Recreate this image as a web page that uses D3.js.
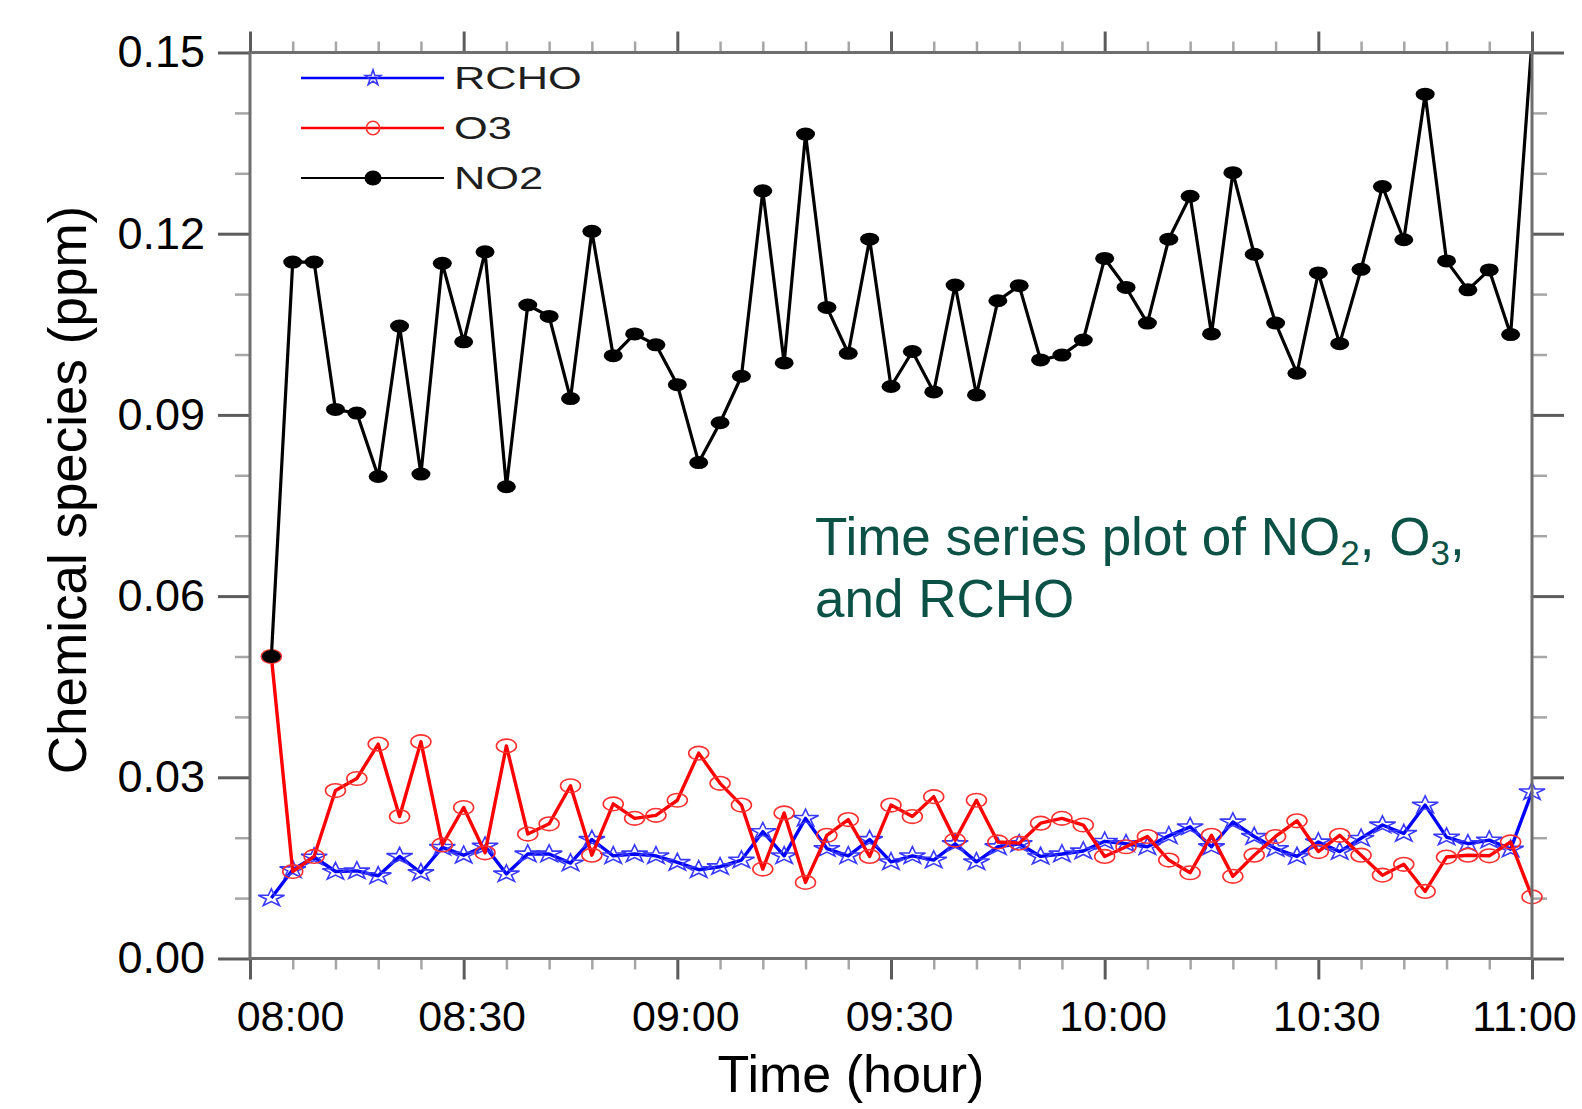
<!DOCTYPE html>
<html>
<head>
<meta charset="utf-8">
<script src="https://cdn.jsdelivr.net/npm/d3@7"></script>
<style>
    body { margin: 0; background: #fff; }
    text { font-family: "Liberation Sans", Arial, Helvetica, sans-serif; }
</style>
</head>
<body>
<script>

    // sample times (every 3 minutes)
    var times = ["08:03","08:06","08:09","08:12","08:15","08:18","08:21","08:24","08:27","08:30",
                 "08:33","08:36","08:39","08:42","08:45","08:48","08:51","08:54","08:57","09:00",
                 "09:03","09:06","09:09","09:12","09:15","09:18","09:21","09:24","09:27","09:30",
                 "09:33","09:36","09:39","09:42","09:45","09:48","09:51","09:54","09:57","10:00",
                 "10:03","10:06","10:09","10:12","10:15","10:18","10:21","10:24","10:27","10:30",
                 "10:33","10:36","10:39","10:42","10:45","10:48","10:51","10:54","10:57","11:00"];

    var no2 = [0.0500, 0.1153, 0.1153, 0.0909, 0.0903, 0.0798, 0.1047, 0.0802, 0.1151, 0.1021,
               0.1170, 0.0781, 0.1082, 0.1063, 0.0927, 0.1204, 0.0998, 0.1034, 0.1016, 0.0950,
               0.0821, 0.0887, 0.0964, 0.1271, 0.0986, 0.1365, 0.1078, 0.1002, 0.1191, 0.0947,
               0.1005, 0.0938, 0.1115, 0.0933, 0.1089, 0.1114, 0.0991, 0.0999, 0.1024, 0.1159,
               0.1111, 0.1052, 0.1191, 0.1262, 0.1034, 0.1301, 0.1166, 0.1052, 0.0969, 0.1135,
               0.1018, 0.1141, 0.1278, 0.1190, 0.1431, 0.1155, 0.1107, 0.1140, 0.1033, 0.1520];

    var o3 = [0.0500, 0.0144, 0.0169, 0.0278, 0.0298, 0.0355, 0.0235, 0.0359, 0.0188, 0.0250,
              0.0175, 0.0352, 0.0206, 0.0223, 0.0286, 0.0171, 0.0256, 0.0232, 0.0237, 0.0262,
              0.0340, 0.0290, 0.0254, 0.0148, 0.0241, 0.0126, 0.0204, 0.0230, 0.0169, 0.0254,
              0.0235, 0.0268, 0.0196, 0.0262, 0.0193, 0.0191, 0.0224, 0.0232, 0.0221, 0.0169,
              0.0185, 0.0202, 0.0163, 0.0142, 0.0204, 0.0136, 0.0171, 0.0202, 0.0228, 0.0177,
              0.0204, 0.0171, 0.0138, 0.0156, 0.0111, 0.0168, 0.0171, 0.0170, 0.0193, 0.0102];

    var rcho = [0.0100, 0.0147, 0.0168, 0.0144, 0.0145, 0.0137, 0.0169, 0.0142, 0.0184, 0.0171,
                0.0186, 0.0140, 0.0173, 0.0173, 0.0158, 0.0197, 0.0170, 0.0173, 0.0170, 0.0159,
                0.0147, 0.0152, 0.0163, 0.0210, 0.0170, 0.0232, 0.0182, 0.0170, 0.0197, 0.0160,
                0.0170, 0.0163, 0.0190, 0.0160, 0.0185, 0.0190, 0.0169, 0.0173, 0.0178, 0.0194,
                0.0190, 0.0185, 0.0203, 0.0218, 0.0185, 0.0226, 0.0202, 0.0182, 0.0169, 0.0193,
                0.0177, 0.0199, 0.0221, 0.0207, 0.0254, 0.0201, 0.0190, 0.0196, 0.0181, 0.0276];

    var seriesNames = ["RCHO", "O3", "NO2"];
    var yTicks = [0, 0.03, 0.06, 0.09, 0.12, 0.15];
    var timeRange = ["08:00", "11:00"];

    var width = 1582, height = 1109,
        plotLeft = 250, plotRight = 1532,
        plotTop = 52.5, plotBottom = 958.5;

    var parse = d3.timeParse("%H:%M");

    var x = d3.scaleTime()
              .domain(timeRange.map(parse))
              .range([plotLeft, plotRight]);

    var y = d3.scaleLinear()
              .domain([0, 0.15])
              .range([plotBottom, plotTop]);

    var svg = d3.select("body")
                .append("svg")
                .attr("width", width)
                .attr("height", height);

    svg.append("rect").attr("width", width).attr("height", height).attr("fill", "#fff");

    svg.append("clipPath").attr("id", "clip")
       .append("rect")
       .attr("x", 0).attr("y", plotTop)
       .attr("width", width).attr("height", height - plotTop);

    var xMajor = x.ticks(d3.timeMinute.every(30));
    var xMinor = x.ticks(d3.timeMinute.every(6)).filter((d) => d.getMinutes() % 30 != 0);
    var yMinor = y.ticks(15).filter((d) => yTicks.indexOf(+d.toFixed(2)) < 0);

    // plain tick marks (no labels)
    function ticks(axisFn, values, size, transform, color, w) {
        var g = svg.append("g")
                   .attr("transform", transform)
                   .call(axisFn.tickValues(values).tickSize(size).tickSizeOuter(0).tickFormat(""));
        g.select(".domain").remove();
        g.selectAll("line").attr("stroke", color).attr("stroke-width", w);
        return g;
    }

    var minorColor = "#a6a6a6", majorColor = "#5c5c5c";

    ticks(d3.axisBottom(x), xMinor, 11, "translate(0," + plotBottom + ")", minorColor, 2.5);
    ticks(d3.axisTop(x), xMinor, 11, "translate(0," + plotTop + ")", minorColor, 2.5);
    ticks(d3.axisTop(x), xMajor, 21, "translate(0," + plotTop + ")", majorColor, 3);
    ticks(d3.axisLeft(y), yMinor, 15, "translate(" + plotLeft + ",0)", minorColor, 2.5);
    ticks(d3.axisRight(y), yMinor, 15, "translate(" + plotRight + ",0)", minorColor, 2.5);
    ticks(d3.axisRight(y), yTicks, 32, "translate(" + plotRight + ",0)", majorColor, 3);

    var xAxis = svg.append("g")
                   .attr("transform", "translate(0," + plotBottom + ")")
                   .call(d3.axisBottom(x)
                           .tickValues(xMajor)
                           .tickSize(21)
                           .tickSizeOuter(0)
                           .tickPadding(21)
                           .tickFormat(d3.timeFormat("%H:%M")));
    xAxis.select(".domain").remove();
    xAxis.selectAll("line").attr("stroke", majorColor).attr("stroke-width", 3);
    xAxis.selectAll("text")
         .attr("font-size", 43)
         .attr("font-family", "Liberation Sans, Arial, sans-serif")
         .attr("fill", "#000")
         .attr("dx", (d, i) => i == 0 ? 40 : (i == xMajor.length - 1 ? -8 : 8));

    var yAxis = svg.append("g")
                   .attr("transform", "translate(" + plotLeft + ",0)")
                   .call(d3.axisLeft(y)
                           .tickValues(yTicks)
                           .tickSize(32)
                           .tickSizeOuter(0)
                           .tickPadding(13)
                           .tickFormat(d3.format(".2f")));
    yAxis.select(".domain").remove();
    yAxis.selectAll("line").attr("stroke", majorColor).attr("stroke-width", 3);
    yAxis.selectAll("text")
         .attr("font-size", 45)
         .attr("font-family", "Liberation Sans, Arial, sans-serif")
         .attr("fill", "#000");

    // series
    var series = [
        {name: seriesNames[0], values: rcho, color: "#0000ff", mark: "#3a3aff", type: "star"},
        {name: seriesNames[1], values: o3,   color: "#ff0000", mark: "#ff3030", type: "circle"},
        {name: seriesNames[2], values: no2,  color: "#000000", mark: "#000000", type: "dot"}
    ];

    var line = d3.line()
                 .x((d, i) => x(parse(times[i])))
                 .y((d) => y(d));

    var star = d3.symbol().type(d3.symbolStar).size(95);

    function marker(sel, type, color, sx, sy) {
        if (type == "star") {
            sel.append("path").attr("d", star)
               .attr("transform", "scale(" + sx + "," + sy + ")")
               .attr("fill", "none").attr("stroke", color)
               .attr("stroke-width", 1.6).attr("vector-effect", "non-scaling-stroke");
        } else if (type == "circle") {
            sel.append("ellipse").attr("rx", 10 * sx / 1.5).attr("ry", 6.8 * sy)
               .attr("fill", "none").attr("stroke", color).attr("stroke-width", 1.6);
        } else {
            sel.append("ellipse").attr("rx", 9.5 * sx / 1.5).attr("ry", 6.5 * sy)
               .attr("fill", color);
        }
    }

    var plot = svg.append("g").attr("clip-path", "url(#clip)");

    series.forEach((s) => {
        plot.append("path")
            .datum(s.values)
            .attr("d", line)
            .attr("fill", "none")
            .attr("stroke", s.color)
            .attr("stroke-width", s.type == "dot" ? 3.2 : 3.4)
            .attr("stroke-linejoin", "round");

        plot.selectAll(null)
            .data(s.values)
            .enter()
            .append("g")
            .attr("transform", (d, i) => "translate(" + x(parse(times[i])) + "," + y(d) + ")")
            .each(function () { marker(d3.select(this), s.type, s.mark, 1.5, 1); });
    });

    // frame
    svg.append("rect")
       .attr("x", plotLeft).attr("y", plotTop)
       .attr("width", plotRight - plotLeft).attr("height", plotBottom - plotTop)
       .attr("fill", "none")
       .attr("stroke", "#6e6e6e")
       .attr("stroke-width", 3);

    // legend
    var legend = svg.append("g");
    series.forEach((s, i) => {
        var ly = 78 + i * 50;
        legend.append("line")
              .attr("x1", 301).attr("x2", 444)
              .attr("y1", ly).attr("y2", ly)
              .attr("stroke", s.color)
              .attr("stroke-width", s.type == "dot" ? 2.2 : 2.6);
        var m = legend.append("g").attr("transform", "translate(373," + ly + ")");
        if (s.type == "star") marker(m, s.type, s.mark, 0.9, 0.9);
        else if (s.type == "circle") marker(m, s.type, s.mark, 1, 1);
        else marker(m, s.type, s.mark, 1.35, 1.15);
        legend.append("text")
              .attr("transform", "translate(454," + (ly + 11) + ") scale(1.4,1)")
              .attr("font-size", 31)
              .attr("fill", "#1e1e1e")
              .text(s.name);
    });

    // axis titles
    svg.append("text")
       .attr("x", 851).attr("y", 1092)
       .attr("text-anchor", "middle")
       .attr("font-size", 52)
       .text("Time (hour)");

    svg.append("text")
       .attr("transform", "translate(86,490) rotate(-90)")
       .attr("text-anchor", "middle")
       .attr("font-size", 53)
       .text("Chemical species (ppm)");

    // annotation
    var note = svg.append("text")
                  .attr("x", 815).attr("y", 555)
                  .attr("font-size", 53)
                  .attr("fill", "#0b5145");
    note.append("tspan").text("Time series plot of NO");
    note.append("tspan").attr("font-size", 35).attr("dy", 10).text("2");
    note.append("tspan").attr("dy", -10).text(", O");
    note.append("tspan").attr("font-size", 35).attr("dy", 10).text("3");
    note.append("tspan").attr("dy", -10).text(",");
    svg.append("text")
       .attr("x", 815).attr("y", 617)
       .attr("font-size", 53)
       .attr("fill", "#0b5145")
       .text("and RCHO");

</script>
</body>
</html>
